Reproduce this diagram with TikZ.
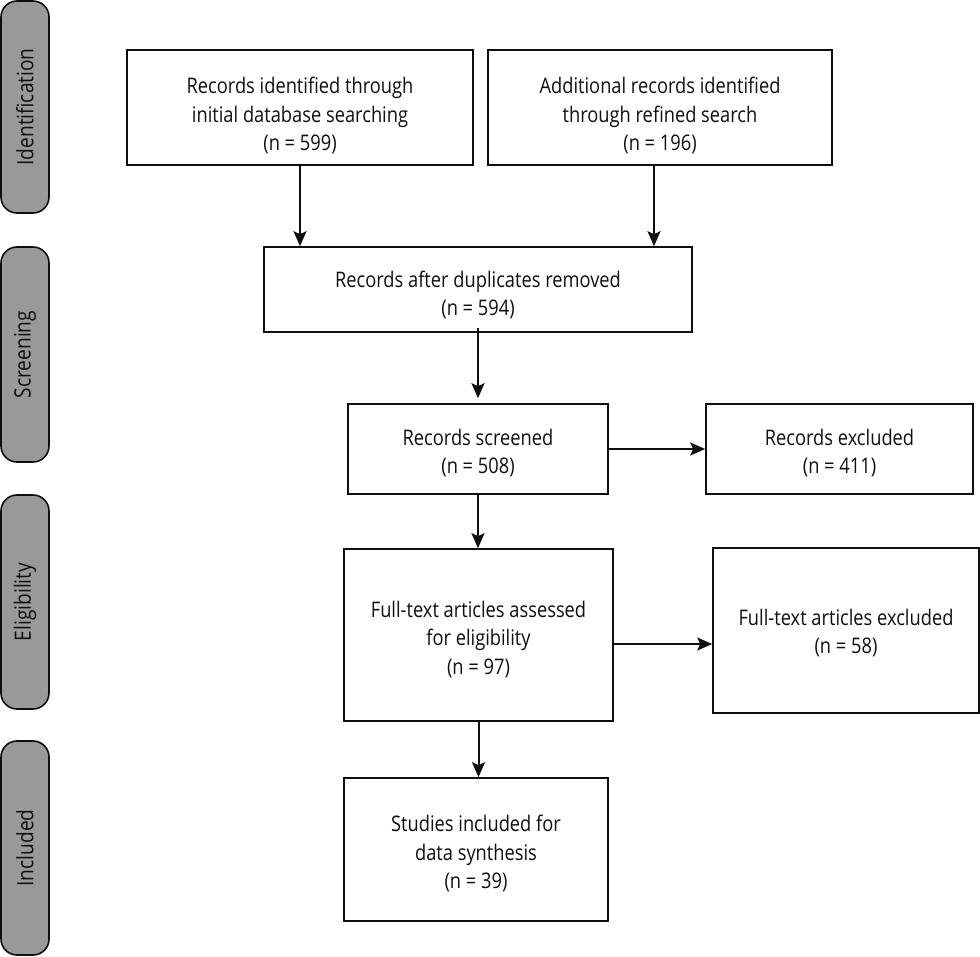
\documentclass[tikz,border=0pt]{standalone}
\usepackage{fontspec}
\setmainfont{Open Sans}[FakeStretch=0.85]
\usetikzlibrary{arrows.meta}
\definecolor{sidegray}{RGB}{152,153,155}
\definecolor{ink}{RGB}{15,15,15}
\newcommand{\btext}[2]{\raisebox{#1}[0pt][0pt]{\begin{tabular}{@{}c@{}}#2\end{tabular}}}
\tikzset{
  box/.style={draw=ink, line width=1.6pt, rectangle, text=ink,
    font=\fontsize{21.5}{28.5}\selectfont, inner sep=0pt},
  side/.style={draw=ink, line width=1.6pt, fill=sidegray, rounded corners=16pt,
    text=ink, font=\fontsize{22.5}{24}\selectfont, rotate=90, inner sep=0pt},
  arr/.style={draw=ink, line width=2pt, -{Stealth[length=15pt,width=13pt,inset=3pt]}}
}
\begin{document}
\begin{tikzpicture}[x=1pt,y=-1pt]
\useasboundingbox (0,0) rectangle (980,956);
% side labels
\node[side, minimum width=212pt, minimum height=48pt] (sid) at (25,107) {Identification};
\node[side, minimum width=215pt, minimum height=48pt] (sscr) at (25,354.5) {Screening};
\node[side, minimum width=214pt, minimum height=48pt] (selg) at (25,602) {Eligibility};
\node[side, minimum width=214pt, minimum height=48pt] (sinc) at (25,848) {Included};
% boxes
\node[box, minimum width=346pt, minimum height=115pt] (b1) at (300,107.5)
  {\btext{-14pt}{Records identified through\\initial database searching\\(n = 599)}};
\node[box, minimum width=344pt, minimum height=115pt] (b2) at (660,107.5)
  {\btext{-14pt}{Additional records identified\\through refined search\\(n = 196)}};
\node[box, minimum width=428pt, minimum height=85pt] (b3) at (478,289.5)
  {\btext{-11.5pt}{Records after duplicates removed\\(n = 594)}};
\node[box, minimum width=260pt, minimum height=90pt] (b4) at (478,449)
  {\btext{-10pt}{Records screened\\(n = 508)}};
\node[box, minimum width=267pt, minimum height=90pt] (b5) at (839.5,449)
  {\btext{-10pt}{Records excluded\\(n = 411)}};
\node[box, minimum width=269pt, minimum height=172pt] (b6) at (478.5,635)
  {\btext{-10pt}{Full-text articles assessed\\for eligibility\\(n = 97)}};
\node[box, minimum width=266pt, minimum height=165pt] (b7) at (846,630.5)
  {\btext{-8.5pt}{Full-text articles excluded\\(n = 58)}};
\node[box, minimum width=264pt, minimum height=143pt] (b8) at (476,849.5)
  {\btext{-10pt}{Studies included for\\data synthesis\\(n = 39)}};
% connectors
\draw[arr] (b1.south) -- (b1.south |- b3.north);
\draw[arr] ([xshift=-6pt]b2.south) -- ([xshift=-6pt]b2.south |- b3.north);
\draw[arr] ([yshift=5pt]b3.south) -- ([yshift=5pt]b3.south |- b4.north);
\draw[arr] (b4.east) -- (b5.west);
\draw[arr] (b4.south) -- (b4.south |- b6.north);
\draw[arr] ([yshift=-9pt]b6.east) -- ([yshift=-9pt]b6.east -| b7.west);
\draw[arr] (b6.south) -- (b6.south |- b8.north);
\end{tikzpicture}
\end{document}
